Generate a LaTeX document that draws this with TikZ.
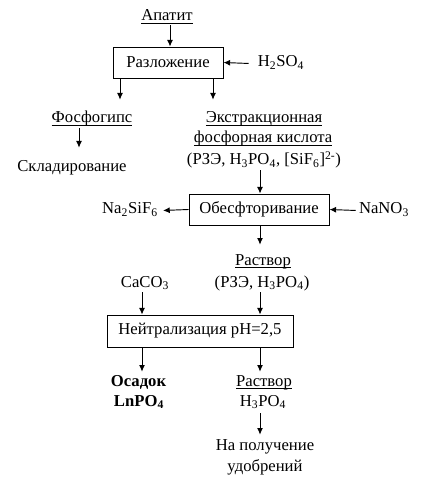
\documentclass[tikz,border=0pt]{standalone}
\usepackage{fontspec}
\setmainfont{Liberation Serif}
\usetikzlibrary{arrows.meta}
\newcommand{\ulined}[1]{\underline{\smash{#1}}}

\begin{document}
\begin{tikzpicture}[x=0.75pt,y=-0.75pt,
        font=\fontsize{12.5pt}{15.5pt}\selectfont,
        txt/.style={inner sep=0pt, anchor=base, text height=8.3pt, text depth=3pt},
        stage/.style={draw, line width=0.7pt, inner sep=0pt, minimum height=23.25pt},
        arr/.style={-{Latex[length=5pt,width=4.5pt]}, line width=0.7pt}]
            \useasboundingbox (0,0) rectangle (425,495);
            % 1. разложение апатита
            \node[txt] (apatit) at (167,21) {\ulined{Апатит}};
            \node[stage, minimum width=82.5pt] (razl) at (168,62.5) {Разложение};
            \node[txt] (h2so4) at (281,67) {H\textsubscript{2}SO\textsubscript{4}};
            \node[txt] (fosfo) at (92,123) {\ulined{Фосфогипс}};
            \node[txt] (sklad) at (72,172) {Складирование};
            \node[txt] (ekstr1) at (264,123) {\ulined{Экстракционная}};
            \node[txt] (ekstr2) at (263,143) {\ulined{фосфорная кислота}};
            \node[txt] (ekstr3) at (264,165) {(РЗЭ, H\textsubscript{3}PO\textsubscript{4}, [SiF\textsubscript{6}]\textsuperscript{2-})};
            \draw[arr] ([shift={(3,0)}]apatit.south) -- ([shift={(2,0)}]razl.north);
            \draw[arr] ([shift={(-9,0)}]h2so4.west) -- (razl.east);
            \draw[arr] ([shift={(-48,0)}]razl.south) -- ([shift={(28,-12)}]fosfo.north);
            \draw[arr] ([shift={(45,0)}]razl.south) -- ([shift={(-51,-12)}]ekstr1.north);
            \draw[arr] ([shift={(-13,1)}]fosfo.south) -- ([shift={(7,-13)}]sklad.north);
            % 2. обесфторивание
            \node[stage, minimum width=105pt] (obes) at (259,209.5) {Обесфторивание};
            \node[txt] (na2sif6) at (130,214) {Na\textsubscript{2}SiF\textsubscript{6}};
            \node[txt] (nano3) at (384,214) {NaNO\textsubscript{3}};
            \node[txt] (rastvor1) at (263,265) {\ulined{Раствор}};
            \node[txt] (rze) at (262,287) {(РЗЭ, H\textsubscript{3}PO\textsubscript{4})};
            \node[txt] (caco3) at (145,287) {CaCO\textsubscript{3}};
            \draw[arr] ([shift={(-4,1)}]ekstr3.south) -- ([shift={(1,0)}]obes.north);
            \draw[arr] (obes.west) -- ([shift={(5,0)}]na2sif6.east);
            \draw[arr] ([shift={(-3,0)}]nano3.west) -- (obes.east);
            \draw[arr] ([shift={(1,0)}]obes.south) -- ([shift={(-3,-9)}]rastvor1.north);
            % 3. нейтрализация
            \node[stage, minimum width=139.5pt, minimum height=24pt] (neut) at (200,331) {Нейтрализация pH=2,5};
            \node[txt, font=\fontsize{12.5pt}{15.5pt}\selectfont\bfseries] (osadok) at (138.5,386) {Осадок};
            \node[txt, font=\fontsize{12.5pt}{15.5pt}\selectfont\bfseries] (lnpo4) at (139,406) {LnPO\textsubscript{4}};
            \node[txt] (rastvor2) at (264,386) {\ulined{Раствор}};
            \node[txt] (h3po4) at (263,406) {H\textsubscript{3}PO\textsubscript{4}};
            \node[txt] (napol1) at (265,450) {На получение};
            \node[txt] (napol2) at (265,471) {удобрений};
            \draw[arr] ([shift={(-3,1)}]caco3.south) -- ([shift={(-58,0)}]neut.north);
            \draw[arr] ([shift={(-2,1)}]rze.south) -- ([shift={(60,0)}]neut.north);
            \draw[arr] ([shift={(-58,0)}]neut.south) -- ([shift={(3.5,-3)}]osadok.north);
            \draw[arr] ([shift={(60,0)}]neut.south) -- ([shift={(-4,-3)}]rastvor2.north);
            \draw[arr] ([shift={(-3,3)}]h3po4.south) -- ([shift={(-5,-4)}]napol1.north);
        \end{tikzpicture}
\end{document}
